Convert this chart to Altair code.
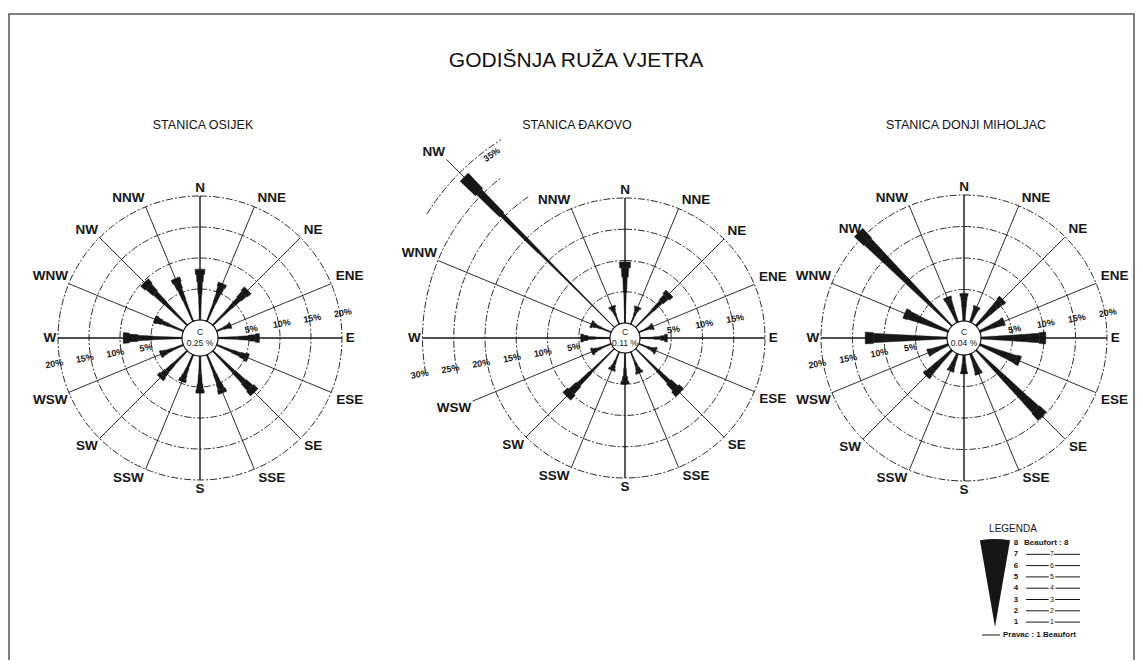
import altair as alt
import pandas as pd

# ---------------- data ----------------
DIRS = ["N", "NNE", "NE", "ENE", "E", "ESE", "SE", "SSE",
        "S", "SSW", "SW", "WSW", "W", "WNW", "NW", "NNW"]
STATION_NAMES = ["STANICA OSIJEK", "STANICA ĐAKOVO", "STANICA DONJI MIHOLJAC"]
CALM_TEXT = ["0.25 %", "0.11 %", "0.04 %"]

# frequency (%) per direction, N clockwise
OSIJEK = [8.2, 6.6, 8.0, 2.5, 6.7, 5.5, 9.5, 6.7, 6.0, 4.7, 6.2, 4.0, 9.5, 5.0, 9.8, 7.5]
DAKOVO = [9.8, 3.0, 7.7, 2.5, 4.4, 3.0, 10.0, 3.7, 5.0, 3.2, 10.8, 3.4, 4.7, 3.5, 34.0, 3.1]
MIHOLJAC = [4.4, 2.7, 6.0, 4.2, 10.3, 6.9, 14.9, 3.5, 3.0, 3.0, 5.8, 3.5, 13.0, 7.5, 21.0, 4.3]

RINGS = [5, 10, 15, 20]
DAKOVO_ARC_PCT = [25, 30, 35]
DAKOVO_ARC_FROM = [258, 260, 302]
DAKOVO_ARC_TO = [326, 322, 328]

# spoke length (%) per direction
SPOKE_OSIJEK = [20] * 16
SPOKE_DAKOVO = [20, 20, 20, 20, 20, 20, 20, 20, 20, 20, 20, 24, 30, 30, 38, 20]
SPOKE_MIHOLJAC = [20] * 16

TICK_E = [[5, 10, 15, 20], [5, 10, 15], [5, 10, 15, 20]]
TICK_W = [[5, 10, 15, 20], [5, 10, 15, 20, 25, 30], [5, 10, 15, 20]]
TICK_NW = [[], [35], []]

LEGEND_LEVELS = [8, 7, 6, 5, 4, 3, 2, 1]
TITLE = "GODIŠNJA RUŽA VJETRA"
LEGEND_TITLE = "LEGENDA"
LEGEND_TOP_TEXT = "Beaufort : 8"
LEGEND_FOOT = "Pravac : 1 Beaufort"

# ---------------- layout / style ----------------
CX = [200, 625, 964]
CY = [338, 338, 338]
R0 = [18, 15, 17]
KPX = [6.2, 6.25, 6.3]
TITLE_X = [203, 577, 966]
TITLE_Y = 125
TICK_ANGLE = {"E": 80, "W": 260, "NW": 324}
TICK_OFF = {"E": 3, "W": 6, "NW": -7}
TICK_ROT = {"E": 350, "W": 350, "NW": 325}
# stepped bar profile: segment bounds (fraction of bar length) and width at outer end (px)
SEG_F0 = [0.0, 0.5, 0.75, 0.9]
SEG_F1 = [0.5, 0.75, 0.9, 1.0]
SEG_W = [[3.5, 5.5, 8.0, 11.0], [2.5, 4.5, 7.5, 11.5], [6.0, 8.0, 9.5, 12.0]]
ANG_STEP = 2
FONT = "Liberation Sans"
INK = "#161616"

XS = alt.Scale(domain=[8, 1135], nice=False, zero=False)
YS = alt.Scale(domain=[8, 660], nice=False, zero=False, reverse=True)


def X(f):
    return alt.X(f, type="quantitative", scale=XS, axis=None)


def Y(f):
    return alt.Y(f, type="quantitative", scale=YS, axis=None)


st = pd.DataFrame({"s": [0, 1, 2], "cx": CX, "cy": CY, "r0": R0, "k": KPX,
                   "name": STATION_NAMES, "calm": CALM_TEXT,
                   "tx": TITLE_X, "ty": [TITLE_Y] * 3})

# bars (stepped wedges)
vals = [OSIJEK, DAKOVO, MIHOLJAC]
rows = []
for s, arr in enumerate(vals):
    for d, v in enumerate(arr):
        for f0, f1, w in zip(SEG_F0, SEG_F1, SEG_W[s]):
            rows.append({"s": s, "d": d, "v": v, "f0": f0, "f1": f1, "wt": w})
bars = pd.DataFrame(rows).merge(st, on="s")

bar_layer = alt.Chart(bars).transform_calculate(
    L="datum.k * datum.v",
    ra="datum.r0 + datum.f0 * datum.L",
    rb="datum.r0 + datum.f1 * datum.L",
    sc="min(1, 0.45 + datum.L / 110)",
    half="datum.wt * datum.sc / datum.rb / 2",
    a="datum.d * 22.5 * PI / 180",
    t1="datum.a - datum.half",
    t2="datum.a + datum.half",
).mark_arc(color=INK, stroke=INK, strokeWidth=0.4).encode(
    x=X("cx"), y=Y("cy"),
    theta=alt.Theta("t1:Q", scale=None), theta2="t2:Q",
    radius=alt.Radius("rb:Q", scale=None), radius2="ra:Q")

# rings
rrows = []
for s in range(3):
    for p in RINGS:
        for t in range(0, 361, ANG_STEP):
            rrows.append({"s": s, "rid": f"{s}-{p}", "pct": p, "t": t})
for p, a0, a1 in zip(DAKOVO_ARC_PCT, DAKOVO_ARC_FROM, DAKOVO_ARC_TO):
    for t in range(a0, a1 + 1, ANG_STEP):
        rrows.append({"s": 1, "rid": f"1-{p}", "pct": p, "t": t})
rings = pd.DataFrame(rrows).merge(st, on="s")
ring_layer = alt.Chart(rings).transform_calculate(
    rr="datum.r0 + datum.k * datum.pct",
    px="datum.cx + datum.rr * sin(datum.t * PI / 180)",
    py="datum.cy - datum.rr * cos(datum.t * PI / 180)",
).mark_line(color="#2a2a2a", strokeWidth=1, strokeDash=[7, 2, 2, 2]).encode(
    x=X("px"), y=Y("py"), detail="rid:N", order="t:Q")

crows = []
for s in range(3):
    for t in range(0, 361, ANG_STEP):
        crows.append({"s": s, "t": t})
calm = pd.DataFrame(crows).merge(st, on="s")
calm_layer = alt.Chart(calm).transform_calculate(
    px="datum.cx + datum.r0 * sin(datum.t * PI / 180)",
    py="datum.cy - datum.r0 * cos(datum.t * PI / 180)",
).mark_line(color=INK, strokeWidth=1.2).encode(
    x=X("px"), y=Y("py"), detail="s:N", order="t:Q")

# spokes
srows = []
for s, arr in enumerate([SPOKE_OSIJEK, SPOKE_DAKOVO, SPOKE_MIHOLJAC]):
    for d, L in enumerate(arr):
        srows.append({"s": s, "d": d, "Lp": L, "lab": DIRS[d]})
spokes = pd.DataFrame(srows).merge(st, on="s")
spoke_layer = alt.Chart(spokes).transform_calculate(
    a="datum.d * 22.5 * PI / 180",
    re="datum.r0 + datum.k * datum.Lp",
    x1="datum.cx + datum.r0 * sin(datum.a)",
    y1="datum.cy - datum.r0 * cos(datum.a)",
    x2="datum.cx + datum.re * sin(datum.a)",
    y2="datum.cy - datum.re * cos(datum.a)",
    sw="datum.d % 4 == 0 ? 1.4 : 0.9",
).mark_rule(color=INK).encode(
    x=X("x1"), y=Y("y1"), x2="x2:Q", y2="y2:Q",
    strokeWidth=alt.StrokeWidth("sw:Q", scale=None, legend=None))

label_layer = alt.Chart(spokes).transform_calculate(
    a="datum.d * 22.5 * PI / 180",
    re="datum.r0 + datum.k * datum.Lp + 2",
    hs="sin(datum.a) > 0.1 ? 1 : (sin(datum.a) < -0.1 ? -1 : 0)",
    vs="cos(datum.a) > 0.1 ? -1 : (cos(datum.a) < -0.1 ? 1 : 0)",
    lx="datum.cx + datum.re * sin(datum.a) + datum.hs * (length(datum.lab) * 5.2 + 1)",
    ly="datum.cy - datum.re * cos(datum.a) + datum.vs * 6.5",
).mark_text(font=FONT, fontSize=13.5, fontWeight="bold", color=INK,
            align="center", baseline="middle").encode(
    x=X("lx"), y=Y("ly"), text="lab:N")

# ring tick labels
trows = []
for s in range(3):
    for side, lst in (("E", TICK_E[s]), ("W", TICK_W[s]), ("NW", TICK_NW[s])):
        for p in lst:
            trows.append({"s": s, "pct": p, "ta": TICK_ANGLE[side],
                          "toff": TICK_OFF[side], "rot": TICK_ROT[side],
                          "tl": f"{p}%"})
ticks = pd.DataFrame(trows).merge(st, on="s")
tick_layer = alt.Chart(ticks).transform_calculate(
    rr="datum.r0 + datum.k * datum.pct + datum.toff",
    px="datum.cx + datum.rr * sin(datum.ta * PI / 180)",
    py="datum.cy - datum.rr * cos(datum.ta * PI / 180)",
).mark_text(font=FONT, fontSize=9, fontWeight="bold", color=INK).encode(
    x=X("px"), y=Y("py"), text="tl:N",
    angle=alt.Angle("rot:Q", scale=None))

# calm texts and station titles
calm_c = alt.Chart(st).transform_calculate(py="datum.cy - 6", c="'C'").mark_text(
    font=FONT, fontSize=8.5, color=INK).encode(x=X("cx"), y=Y("py"), text="c:N")
calm_v = alt.Chart(st).transform_calculate(py="datum.cy + 5").mark_text(
    font=FONT, fontSize=8.5, color=INK).encode(x=X("cx"), y=Y("py"), text="calm:N")
st_titles = alt.Chart(st).mark_text(font=FONT, fontSize=12.5, color="#111").encode(
    x=X("tx"), y=Y("ty"), text="name:N")

main_title = alt.Chart(pd.DataFrame({"t": [TITLE], "x": [576], "y": [61]})).mark_text(
    font=FONT, fontSize=21, color="#111").encode(x=X("x"), y=Y("y"), text="t:N")

# frame
frame = alt.Chart(pd.DataFrame({"x": [9], "x2": [1134], "y": [14], "y2": [663]})).mark_rect(
    fill=None, stroke="#555", strokeWidth=1.5).encode(
    x=X("x"), x2="x2:Q", y=Y("y"), y2="y2:Q")

# legend
leg_title = alt.Chart(pd.DataFrame({"t": [LEGEND_TITLE], "x": [1013], "y": [529]})).mark_text(
    font=FONT, fontSize=10, color=INK).encode(x=X("x"), y=Y("y"), text="t:N")
wedge = alt.Chart(pd.DataFrame({"x": [995], "y": [627], "r": [88], "t1": [-0.172], "t2": [0.172]})).mark_arc(
    color=INK).encode(x=X("x"), y=Y("y"), theta=alt.Theta("t1:Q", scale=None), theta2="t2:Q",
                      radius=alt.Radius("r:Q", scale=None))
lev = pd.DataFrame({"lv": LEGEND_LEVELS, "i": list(range(len(LEGEND_LEVELS)))})
leg_num = alt.Chart(lev).transform_calculate(
    px="1016", py="543 + datum.i * 11.3").mark_text(
    font=FONT, fontSize=8, fontWeight="bold", color=INK).encode(x=X("px"), y=Y("py"), text="lv:Q")
leg_lines = alt.Chart(lev).transform_filter("datum.i > 0").transform_calculate(
    xa="1026", xb="1080", py="543 + datum.i * 11.3").mark_rule(
    color=INK, strokeWidth=1).encode(x=X("xa"), x2="xb:Q", y=Y("py"))
leg_mid = alt.Chart(lev).transform_filter("datum.i > 0").transform_calculate(
    px="1052", py="543 + datum.i * 11.3").mark_text(
    font=FONT, fontSize=7, color=INK, fill="white", stroke="white", strokeWidth=3).encode(
    x=X("px"), y=Y("py"), text="lv:Q")
leg_mid2 = alt.Chart(lev).transform_filter("datum.i > 0").transform_calculate(
    px="1052", py="543 + datum.i * 11.3").mark_text(
    font=FONT, fontSize=7, color=INK).encode(x=X("px"), y=Y("py"), text="lv:Q")
leg_top = alt.Chart(pd.DataFrame({"t": [LEGEND_TOP_TEXT], "x": [1024], "y": [543]})).mark_text(
    font=FONT, fontSize=8, fontWeight="bold", color=INK, align="left").encode(
    x=X("x"), y=Y("y"), text="t:N")
leg_foot_line = alt.Chart(pd.DataFrame({"x": [982], "x2": [1000], "y": [635]})).mark_rule(
    color=INK, strokeWidth=1).encode(x=X("x"), x2="x2:Q", y=Y("y"))
leg_foot = alt.Chart(pd.DataFrame({"t": [LEGEND_FOOT], "x": [1003], "y": [635]})).mark_text(
    font=FONT, fontSize=8, fontWeight="bold", color=INK, align="left").encode(
    x=X("x"), y=Y("y"), text="t:N")

chart = alt.layer(
    frame, ring_layer, spoke_layer, calm_layer, bar_layer, label_layer, tick_layer,
    calm_c, calm_v, st_titles, main_title,
    leg_title, wedge, leg_lines, leg_mid, leg_mid2, leg_num, leg_top, leg_foot_line, leg_foot,
).properties(width=1127, height=652, padding=0, autosize="none", background="white"
).configure_view(stroke=None)

chart.save("out.html", embed_options={"renderer": "svg", "actions": False})
